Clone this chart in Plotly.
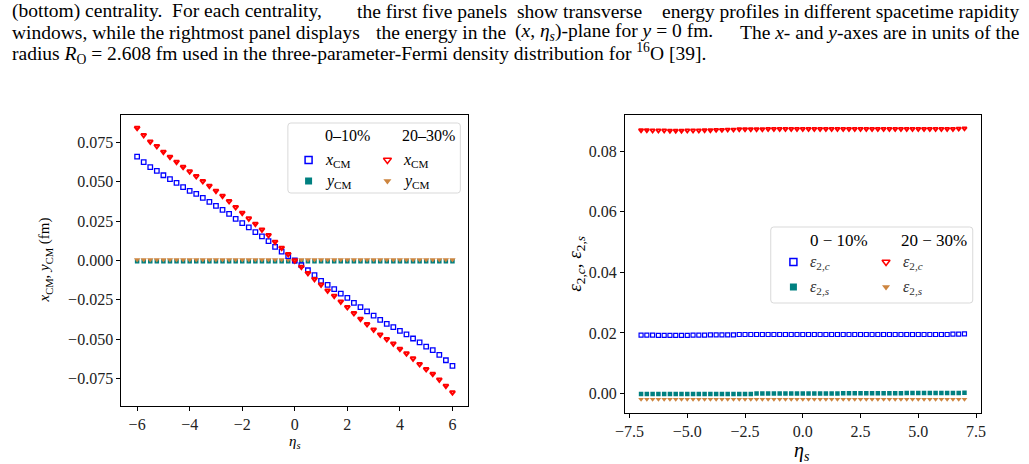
import plotly.graph_objects as go

# ---------------- data ----------------
eta_left = [-6.0, -5.75, -5.5, -5.25, -5.0, -4.75, -4.5, -4.25, -4.0, -3.75,
            -3.5, -3.25, -3.0, -2.75, -2.5, -2.25, -2.0, -1.75, -1.5, -1.25,
            -1.0, -0.75, -0.5, -0.25, 0.0, 0.25, 0.5, 0.75, 1.0, 1.25,
            1.5, 1.75, 2.0, 2.25, 2.5, 2.75, 3.0, 3.25, 3.5, 3.75,
            4.0, 4.25, 4.5, 4.75, 5.0, 5.25, 5.5, 5.75, 6.0]

xcm_0_10 = [0.0661, 0.0625, 0.0593, 0.0570, 0.0542, 0.0517, 0.0494, 0.0466, 0.0443, 0.0424,
            0.0398, 0.0373, 0.0347, 0.0322, 0.0297, 0.0265, 0.0237, 0.0210, 0.0180, 0.0153,
            0.0123, 0.0087, 0.0057, 0.0028, 0.0000, -0.0030, -0.0062, -0.0093, -0.0130, -0.0155,
            -0.0182, -0.0210, -0.0238, -0.0269, -0.0297, -0.0324, -0.0350, -0.0377, -0.0403, -0.0424,
            -0.0447, -0.0470, -0.0496, -0.0521, -0.0547, -0.0570, -0.0600, -0.0634, -0.0670]
xcm_20_30 = [0.0843, 0.0797, 0.0756, 0.0727, 0.0691, 0.0659, 0.0627, 0.0595, 0.0566, 0.0536,
             0.0504, 0.0475, 0.0443, 0.0411, 0.0377, 0.0339, 0.0303, 0.0267, 0.0233, 0.0197,
             0.0161, 0.0119, 0.0081, 0.0040, 0.0000, -0.0040, -0.0080, -0.0118, -0.0153, -0.0191,
             -0.0225, -0.0261, -0.0297, -0.0335, -0.0371, -0.0405, -0.0439, -0.0471, -0.0500, -0.0528,
             -0.0562, -0.0591, -0.0623, -0.0659, -0.0691, -0.0721, -0.0757, -0.0797, -0.0839]
ycm_0_10 = [-0.0004, -0.0004, -0.0004, -0.0004, -0.0004, -0.0004, -0.0004, -0.0004, -0.0004, -0.0004,
            -0.0004, -0.0004, -0.0004, -0.0004, -0.0004, -0.0004, -0.0004, -0.0004, -0.0004, -0.0004,
            -0.0004, -0.0004, -0.0004, -0.0004, -0.0004, -0.0004, -0.0004, -0.0004, -0.0004, -0.0004,
            -0.0004, -0.0004, -0.0004, -0.0004, -0.0004, -0.0004, -0.0004, -0.0004, -0.0004, -0.0004,
            -0.0004, -0.0004, -0.0004, -0.0004, -0.0004, -0.0004, -0.0004, -0.0004, -0.0004]
ycm_20_30 = [0.0005, 0.0005, 0.0005, 0.0005, 0.0005, 0.0005, 0.0005, 0.0005, 0.0005, 0.0005,
             0.0005, 0.0005, 0.0005, 0.0005, 0.0005, 0.0005, 0.0005, 0.0005, 0.0005, 0.0005,
             0.0005, 0.0005, 0.0005, 0.0005, 0.0005, 0.0005, 0.0005, 0.0005, 0.0005, 0.0005,
             0.0005, 0.0005, 0.0005, 0.0005, 0.0005, 0.0005, 0.0005, 0.0005, 0.0005, 0.0005,
             0.0005, 0.0005, 0.0005, 0.0005, 0.0005, 0.0005, 0.0005, 0.0005, 0.0005]

eta_right = [-7.0, -6.75, -6.5, -6.25, -6.0, -5.75, -5.5, -5.25, -5.0, -4.75,
             -4.5, -4.25, -4.0, -3.75, -3.5, -3.25, -3.0, -2.75, -2.5, -2.25,
             -2.0, -1.75, -1.5, -1.25, -1.0, -0.75, -0.5, -0.25, 0.0, 0.25,
             0.5, 0.75, 1.0, 1.25, 1.5, 1.75, 2.0, 2.25, 2.5, 2.75,
             3.0, 3.25, 3.5, 3.75, 4.0, 4.25, 4.5, 4.75, 5.0, 5.25,
             5.5, 5.75, 6.0, 6.25, 6.5, 6.75, 7.0]

e2c_0_10 = [0.0193, 0.0193, 0.0193, 0.0192, 0.0192, 0.0192, 0.0192, 0.0192, 0.0192, 0.0193,
            0.0193, 0.0193, 0.0194, 0.0194, 0.0194, 0.0194, 0.0194, 0.0195, 0.0195, 0.0195,
            0.0195, 0.0195, 0.0195, 0.0195, 0.0195, 0.0195, 0.0195, 0.0195, 0.0195, 0.0195,
            0.0195, 0.0195, 0.0195, 0.0195, 0.0195, 0.0195, 0.0195, 0.0195, 0.0195, 0.0195,
            0.0195, 0.0195, 0.0195, 0.0195, 0.0195, 0.0195, 0.0195, 0.0195, 0.0195, 0.0195,
            0.0195, 0.0195, 0.0195, 0.0195, 0.0196, 0.0196, 0.0197]
e2s_0_10 = [-0.0001, -0.0001, -0.0001, -0.0001, -0.0001, -0.0001, -0.0001, -0.0001, -0.0001, -0.0001,
            -0.0001, -0.0001, -0.0001, -0.0001, -0.0001, -0.0001, -0.0001, -0.0001, -0.0001, -0.0001,
            0.0000, 0.0000, 0.0000, 0.0000, 0.0000, 0.0000, 0.0000, 0.0000, 0.0000, 0.0000,
            0.0000, 0.0000, 0.0000, 0.0000, 0.0000, 0.0001, 0.0001, 0.0001, 0.0001, 0.0001,
            0.0001, 0.0001, 0.0001, 0.0001, 0.0001, 0.0001, 0.0002, 0.0002, 0.0002, 0.0002,
            0.0002, 0.0002, 0.0002, 0.0002, 0.0002, 0.0002, 0.0003]
e2c_20_30 = [0.0869, 0.0869, 0.0868, 0.0868, 0.0868, 0.0867, 0.0867, 0.0867, 0.0868, 0.0868,
             0.0868, 0.0869, 0.0869, 0.0870, 0.0870, 0.0871, 0.0871, 0.0872, 0.0872, 0.0872,
             0.0872, 0.0872, 0.0873, 0.0873, 0.0873, 0.0873, 0.0873, 0.0873, 0.0873, 0.0873,
             0.0873, 0.0873, 0.0873, 0.0873, 0.0873, 0.0873, 0.0873, 0.0873, 0.0873, 0.0873,
             0.0873, 0.0873, 0.0873, 0.0873, 0.0873, 0.0873, 0.0873, 0.0873, 0.0873, 0.0873,
             0.0873, 0.0873, 0.0873, 0.0873, 0.0873, 0.0874, 0.0875]
e2s_20_30 = [-0.0019, -0.0019, -0.0019, -0.0019, -0.0019, -0.0019, -0.0019, -0.0019, -0.0019, -0.0019,
             -0.0019, -0.0019, -0.0019, -0.0019, -0.0019, -0.0019, -0.0019, -0.0019, -0.0019, -0.0019,
             -0.0019, -0.0019, -0.0019, -0.0019, -0.0019, -0.0019, -0.0019, -0.0019, -0.0019, -0.0019,
             -0.0019, -0.0019, -0.0019, -0.0019, -0.0019, -0.0019, -0.0019, -0.0019, -0.0019, -0.0019,
             -0.0019, -0.0019, -0.0019, -0.0019, -0.0019, -0.0019, -0.0019, -0.0019, -0.0019, -0.0019,
             -0.0019, -0.0019, -0.0019, -0.0019, -0.0019, -0.0019, -0.0019]

left_xticks = [-6, -4, -2, 0, 2, 4, 6]
left_xtext = ["\u22126", "\u22124", "\u22122", "0", "2", "4", "6"]
left_yticks = [-0.075, -0.05, -0.025, 0.0, 0.025, 0.05, 0.075]
left_ytext = ["\u22120.075", "\u22120.050", "\u22120.025", "0.000", "0.025", "0.050", "0.075"]
right_xticks = [-7.5, -5.0, -2.5, 0.0, 2.5, 5.0, 7.5]
right_xtext = ["\u22127.5", "\u22125.0", "\u22122.5", "0.0", "2.5", "5.0", "7.5"]
right_yticks = [0.0, 0.02, 0.04, 0.06, 0.08]
right_ytext = ["0.00", "0.02", "0.04", "0.06", "0.08"]

# caption pieces: (text, anchor x, xanchor) -- justified lines split into chunks
caption_lines = [
    [("(bottom) centrality.  For each centrality,", 0, "left"),
     ("the first five panels", 506, "right"),
     ("show transverse", 512, "left"),
     ("energy profiles in different spacetime rapidity", 1026, "right")],
    [("windows, while the rightmost panel displays", 0, "left"),
     ("the energy in the", 505, "right"),
     ("(<i>x</i>, <i>η<sub>s</sub></i>)-plane for <i>y</i> = 0 fm.", 510, "left"),
     ("The <i>x</i>- and <i>y</i>-axes are in units of the", 1026, "right")],
    [("radius <i>R</i><sub>O</sub> = 2.608 fm used in the three-parameter-Fermi density "
      "distribution for <sup>16</sup>O [39].", 0, "left")],
]

# ---------------- style ----------------
W, H = 1029, 464
FONT = "Liberation Serif"
BLUE, RED, TEAL, ORANGE = "#0000ff", "#ff0000", "#008080", "#cd853f"

fig = go.Figure()

# left panel
fig.add_trace(go.Scatter(x=eta_left, y=ycm_0_10, mode="markers", xaxis="x", yaxis="y",
                         marker=dict(symbol="square", size=4.5, color=TEAL, line=dict(width=0))))
fig.add_trace(go.Scatter(x=eta_left, y=ycm_20_30, mode="markers", xaxis="x", yaxis="y",
                         marker=dict(symbol="triangle-down", size=5.5, color=ORANGE, line=dict(width=0))))
fig.add_trace(go.Scatter(x=eta_left, y=xcm_0_10, mode="markers", xaxis="x", yaxis="y",
                         marker=dict(symbol="square-open", size=4.5, color=BLUE, line=dict(width=1.3))))
fig.add_trace(go.Scatter(x=eta_left, y=xcm_20_30, mode="markers", xaxis="x", yaxis="y",
                         marker=dict(symbol="triangle-down-open", size=4.5, color=RED, line=dict(width=2))))

# right panel
fig.add_trace(go.Scatter(x=eta_right, y=e2s_0_10, mode="markers", xaxis="x2", yaxis="y2",
                         marker=dict(symbol="square", size=4.5, color=TEAL, line=dict(width=0))))
fig.add_trace(go.Scatter(x=eta_right, y=e2s_20_30, mode="markers", xaxis="x2", yaxis="y2",
                         marker=dict(symbol="triangle-down", size=5, color=ORANGE, line=dict(width=0))))
fig.add_trace(go.Scatter(x=eta_right, y=e2c_0_10, mode="markers", xaxis="x2", yaxis="y2",
                         marker=dict(symbol="square-open", size=4, color=BLUE, line=dict(width=1.2))))
fig.add_trace(go.Scatter(x=eta_right, y=e2c_20_30, mode="markers", xaxis="x2", yaxis="y2",
                         marker=dict(symbol="triangle-down-open", size=4, color=RED, line=dict(width=1.8))))

# pixel overlay axis for legends / captions
legend_marks = [
    (303, 160, "square-open", BLUE), (383, 160, "triangle-down-open", RED),
    (303, 181, "square", TEAL), (383, 181, "triangle-down", ORANGE),
    (795, 262, "square-open", BLUE), (889, 262, "triangle-down-open", RED),
    (795, 287, "square", TEAL), (889, 287, "triangle-down", ORANGE),
]
for (lx, ly, sym, col) in legend_marks:
    fig.add_trace(go.Scatter(x=[lx], y=[ly], mode="markers", xaxis="x3", yaxis="y3",
                             marker=dict(symbol=sym, size=7, color=col,
                                         line=dict(width=1.5 if "open" in sym else 0, color=col))))


def rrect(x0, y0, x1, y1, r=3):
    return (f"M{x0+r},{y0} L{x1-r},{y0} Q{x1},{y0} {x1},{y0+r} L{x1},{y1-r} Q{x1},{y1} {x1-r},{y1} "
            f"L{x0+r},{y1} Q{x0},{y1} {x0},{y1-r} L{x0},{y0+r} Q{x0},{y0} {x0+r},{y0} Z")


shapes = [
    dict(type="path", path=rrect(282, 123, 457, 193), xref="x3", yref="y3",
         line=dict(color="#d9d9d9", width=1), fillcolor="rgba(255,255,255,0.8)", layer="below"),
    dict(type="path", path=rrect(772, 227, 977, 303), xref="x3", yref="y3",
         line=dict(color="#d9d9d9", width=1), fillcolor="rgba(255,255,255,0.8)", layer="below"),
]

ann = []


def txt(x, y, s, size=15, xa="left", ya="middle", color="black", angle=0):
    ann.append(dict(x=x, y=y, xref="x3", yref="y3", text=s, showarrow=False, xanchor=xa,
                    yanchor=ya, textangle=angle, font=dict(family=FONT, size=size, color=color)))


# caption
cap_y = [11, 32, 53]
for pieces, cy in zip(caption_lines, cap_y):
    for (s, px, xa) in pieces:
        txt(px, cy, s, size=19.5, xa=xa)

# left legend text
txt(342, 135, "0\u201310%", size=16, xa="center")
txt(425, 135, "20\u201330%", size=16, xa="center")
txt(318, 160, "<i>x</i><sub>CM</sub>", size=16)
txt(397, 160, "<i>x</i><sub>CM</sub>", size=16)
txt(318, 181, "<i>y</i><sub>CM</sub>", size=16)
txt(397, 181, "<i>y</i><sub>CM</sub>", size=16)

# right legend text
txt(841, 240, "0 \u2212 10%", size=17, xa="center")
txt(938, 240, "20 \u2212 30%", size=17, xa="center")
txt(810, 262, "<i>ε</i><sub>2,<i>c</i></sub>", size=16, color="#333333")
txt(904, 262, "<i>ε</i><sub>2,<i>c</i></sub>", size=16, color="#333333")
txt(810, 287, "<i>ε</i><sub>2,<i>s</i></sub>", size=16, color="#333333")
txt(904, 287, "<i>ε</i><sub>2,<i>s</i></sub>", size=16, color="#333333")

# axis titles
txt(289, 442, "<i>η<sub>s</sub></i>", size=15, xa="center")
txt(36, 260, "<i>x</i><sub>CM</sub>, <i>y</i><sub>CM</sub> (fm)", size=15, xa="center", angle=-90)
txt(804, 451, "<i>η<sub>s</sub></i>", size=20, xa="center")
txt(574, 264, "<i>ε</i><sub>2,<i>c</i></sub>, <i>ε</i><sub>2,<i>s</i></sub>", size=19, xa="center", angle=-90)

axis_common = dict(showline=True, mirror=True, linecolor="black", linewidth=1, ticks="outside",
                   ticklen=4, tickwidth=1, tickcolor="black", showgrid=False, zeroline=False,
                   tickfont=dict(family=FONT, size=16, color="#222222"))

fig.update_layout(
    width=W, height=H, margin=dict(l=0, r=0, t=0, b=0),
    paper_bgcolor="white", plot_bgcolor="rgba(0,0,0,0)", showlegend=False,
    xaxis=dict(domain=[113 / W, 465 / W], range=[-6.6, 6.6], anchor="y",
               tickvals=left_xticks, ticktext=left_xtext, **axis_common),
    yaxis=dict(domain=[1 - 406 / H, 1 - 115 / H], range=[-0.0925, 0.0925], anchor="x",
               tickvals=left_yticks, ticktext=left_ytext, **axis_common),
    xaxis2=dict(domain=[624 / W, 985 / W], range=[-7.7, 7.7], anchor="y2",
                tickvals=right_xticks, ticktext=right_xtext, **axis_common),
    yaxis2=dict(domain=[1 - 413 / H, 1 - 115 / H], range=[-0.0064, 0.0919], anchor="x2",
                tickvals=right_yticks, ticktext=right_ytext, **axis_common),
    xaxis3=dict(domain=[0, 1], range=[0, W], visible=False, fixedrange=True, anchor="y3"),
    yaxis3=dict(domain=[0, 1], range=[H, 0], visible=False, fixedrange=True, anchor="x3"),
    shapes=shapes, annotations=ann,
)

fig.write_html("out.html")
